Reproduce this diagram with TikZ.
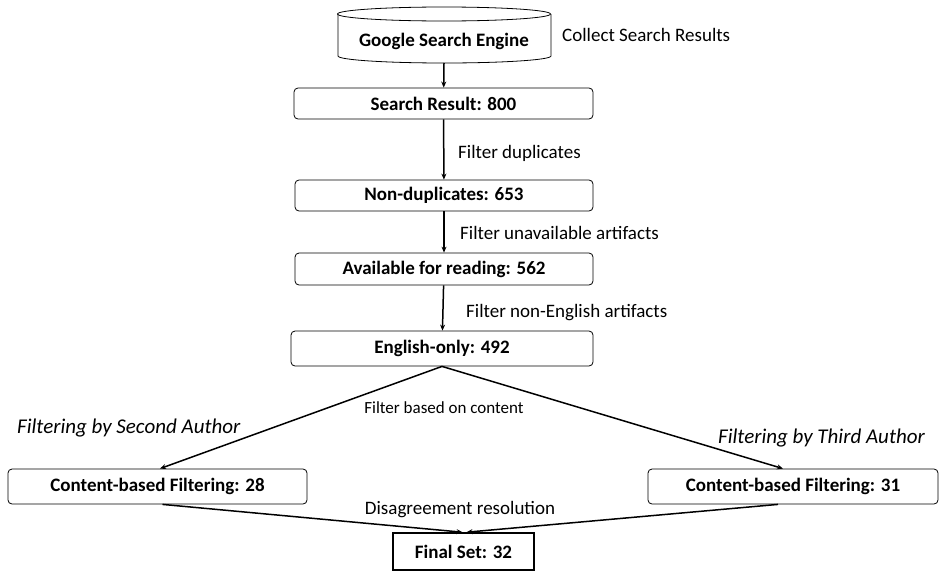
\documentclass[tikz,border=0pt]{standalone}
\usepackage{fontspec}
\setmainfont{Carlito}
\usetikzlibrary{arrows.meta}
\tikzset{
  stage/.style={draw,rounded corners=4pt,line width=0.8pt,minimum height=31pt,font=\fontsize{19}{22}\selectfont\bfseries,inner sep=0pt},
  flow/.style={-{Stealth[length=6pt,width=5pt]},line width=1.5pt},
  note/.style={anchor=west,inner sep=0pt},
  who/.style={note,font=\fontsize{21}{24}\selectfont\itshape}
}
\begin{document}
\begin{tikzpicture}[x=1pt,y=-1pt,font=\fontsize{19}{22}\selectfont]
         \useasboundingbox (0,0) rectangle (939,573);
         % search engine drum
         \draw[line width=0.8pt,fill=white] (338,14) -- (338,56) arc[start angle=180,end angle=360,x radius=106.5pt,y radius=7pt] -- (551,14);
         \draw[line width=0.8pt] (444,14) ellipse[x radius=106.5pt,y radius=7pt];
         \node[font=\fontsize{19}{22}\selectfont\bfseries] (gse) at (444,41) {Google Search Engine};
         \coordinate (gsebot) at (444,63);
         \node[note] (collect) at (562,35) {Collect Search Results};
         % filtering stages
         \node[stage,minimum width=299pt] (res) at (443.5,103.5) {Search Result: 800};
         \node[stage,minimum width=298pt] (nodup) at (444,195.5) {Non-duplicates: 653};
         \node[stage,minimum width=298pt,minimum height=32pt] (avail) at (444,269) {Available for reading: 562};
         \node[stage,minimum width=302pt,minimum height=35pt] (eng) at (442,348.5) {English-only: 492};
         \node[stage,minimum width=299pt,minimum height=35pt] (second) at (157.5,486.5) {Content-based Filtering: 28};
         \node[stage,minimum width=290pt,minimum height=35pt] (third) at (793,486.5) {Content-based Filtering: 31};
         \node[stage,sharp corners,line width=1.6pt,minimum width=141pt,minimum height=37pt] (final) at (463.5,551.5) {Final Set: 32};
         \draw[flow] (gsebot) -- (res);
         \draw[flow] (res) -- (nodup);
         \draw[flow] (nodup) -- (avail);
         \draw[flow] (avail) -- (eng);
         \draw[flow] (eng.south) -- ([xshift=2.5pt]second.north);
         \draw[flow] (eng.south) -- ([xshift=-10pt]third.north);
         \draw[flow] ([xshift=5pt]second.south) -- ([xshift=-1pt]final.north);
         \draw[flow] ([xshift=-15pt]third.south) -- ([xshift=3pt]final.north);
         % labels
         \node[note] (dup) at (458,153) {Filter duplicates};
         \node[note] (unav) at (460,233) {Filter unavailable artifacts};
         \node[note] (noneng) at (466,313) {Filter non-English artifacts};
         \node[font=\fontsize{17}{20}\selectfont] (content) at (444,408) {Filter based on content};
         \node[who] (by2) at (17,428) {Filtering by Second Author};
         \node[who] (by3) at (718,438) {Filtering by Third Author};
         \node (disagree) at (460,510) {Disagreement resolution};
\end{tikzpicture}
\end{document}
